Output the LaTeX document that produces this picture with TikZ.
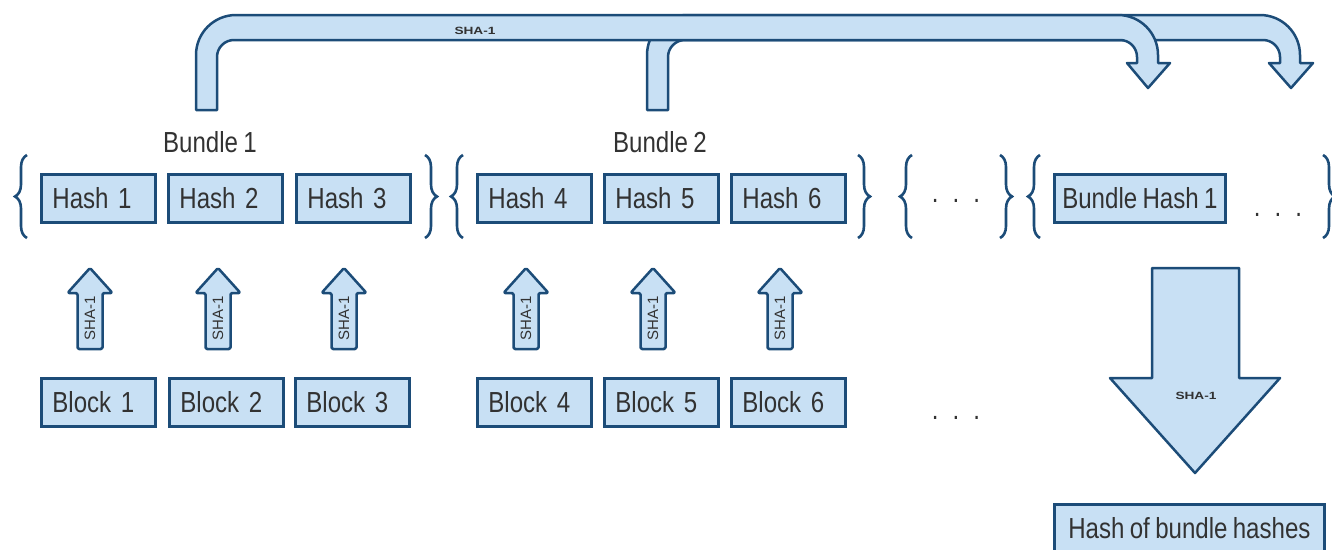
\documentclass[tikz,border=0pt]{standalone}
\usepackage{fontspec}
\setmainfont{Liberation Sans}[FakeStretch=0.83, WordSpace=0.8]
\newfontfamily\labelfont{Liberation Sans}
\usetikzlibrary{decorations.pathreplacing}
\definecolor{bfill}{RGB}{200,224,244}
\definecolor{bline}{RGB}{28,76,120}
\definecolor{btext}{RGB}{50,50,50}

% upward SHA-1 block arrow: #1 label name, #2 centre x
\newcommand\upsha[2]{%
  \draw[arrowbody,rounded corners=1.5pt]
    (#2,268) -- (#2+22.5,293) -- (#2+12.5,293) -- (#2+12.5,349)
    -- (#2-12.5,349) -- (#2-12.5,293) -- (#2-22.5,293) -- cycle;
  \node[vlabel] (#1) at (#2,318) {SHA-1};}

\begin{document}
\begin{tikzpicture}[x=1pt,y=-1pt,
  mainfont/.style={font=\fontsize{29}{30}\selectfont, text=btext},
  box/.style={draw=bline, fill=bfill, line width=2.8pt, rectangle,
    anchor=north west, minimum height=48pt, inner ysep=0pt,
    inner xsep=11pt, text width=92pt, align=left, mainfont},
  widebox/.style={draw=bline, fill=bfill, line width=2.8pt, rectangle,
    anchor=north west, minimum height=48pt, inner ysep=0pt,
    inner xsep=2pt, minimum width=#1, mainfont},
  arrowbody/.style={draw=bline, fill=bfill, line width=2.5pt, line join=round},
  curly/.style={decorate, decoration={brace, amplitude=12pt}, draw=bline, line width=2.6pt},
  hlabel/.style={font=\labelfont\bfseries\fontsize{10.5}{11}\selectfont, text=btext,
    inner sep=0pt, xscale=1.3},
  vlabel/.style={font=\labelfont\fontsize{15}{15}\selectfont, text=btext, inner sep=0pt,
    rotate=90},
  dotsstyle/.style={mainfont, inner sep=0pt},
]
\useasboundingbox (0,0) rectangle (1332,549);

% bent arrows from the bundle hashes to the right
\draw[arrowbody] (647,110) -- (647,55) .. controls (647,32.9) and (664.9,15) .. (687,15)
  -- (1260,15) .. controls (1282.1,15) and (1300,32.9) .. (1300,55)
  -- (1300,63) -- (1313,63) -- (1291,88) -- (1269,63) -- (1280,63) -- (1280,57)
  .. controls (1280,47.6) and (1272.4,40) .. (1263,40)
  -- (685,40) .. controls (675.6,40) and (668,47.6) .. (668,57) -- (668,110) -- cycle;
\draw[arrowbody] (196,110) -- (196,55) .. controls (196,32.9) and (213.9,15) .. (236,15)
  -- (1118,15) .. controls (1140.1,15) and (1158,32.9) .. (1158,55)
  -- (1158,63) -- (1170,63) -- (1148,88) -- (1127,63) -- (1137,63) -- (1137,57)
  .. controls (1137,47.6) and (1129.4,40) .. (1120,40)
  -- (234,40) .. controls (224.6,40) and (217,47.6) .. (217,57) -- (217,110) -- cycle;
\node[hlabel] (topsha) at (475,31) {SHA-1};

% bundle titles
\node[mainfont] (bundle1) at (210,142) {Bundle 1};
\node[mainfont] (bundle2) at (660,142) {Bundle 2};

% hash row
\node[box] (h1) at (40,173) {Hash 1};
\node[box] (h2) at (167,173) {Hash 2};
\node[box] (h3) at (295,173) {Hash 3};
\node[box] (h4) at (476,173) {Hash 4};
\node[box] (h5) at (603,173) {Hash 5};
\node[box] (h6) at (730,173) {Hash 6};
\node[widebox=171pt] (bh1) at (1053,173) {Bundle Hash 1};

% braces
\draw[curly] (27,238) -- (27,155);
\draw[curly] (425,155) -- (425,238);
\draw[curly] (463,238) -- (463,155);
\draw[curly] (858,155) -- (858,238);
\draw[curly] (912,238) -- (912,155);
\draw[curly] (1000,155) -- (1000,238);
\draw[curly] (1040,238) -- (1040,155);
\draw[curly] (1323,155) -- (1323,238);

\node[dotsstyle] (dots1) at (956,201) {.\hspace{14pt}.\hspace{14pt}.};
\node[dotsstyle] (dots2) at (1278,215) {.\hspace{14pt}.\hspace{14pt}.};

% hashing of each block
\upsha{s1}{90}
\upsha{s2}{218}
\upsha{s3}{344}
\upsha{s4}{526}
\upsha{s5}{653}
\upsha{s6}{780}

% block row
\node[box] (b1) at (40,377) {Block 1};
\node[box] (b2) at (168,377) {Block 2};
\node[box] (b3) at (294,377) {Block 3};
\node[box] (b4) at (476,377) {Block 4};
\node[box] (b5) at (603,377) {Block 5};
\node[box] (b6) at (730,377) {Block 6};
\node[dotsstyle] (dots3) at (956,418) {.\hspace{14pt}.\hspace{14pt}.};

% hash of the bundle hashes
\draw[arrowbody] (1152,268) -- (1239,268) -- (1239,378) -- (1280,378) -- (1195,473)
  -- (1110,378) -- (1152,378) -- cycle;
\node[hlabel] (bigsha) at (1196,396) {SHA-1};
\node[widebox=270pt] (hbh) at (1053,503) {Hash of bundle hashes};
\end{tikzpicture}
\end{document}
